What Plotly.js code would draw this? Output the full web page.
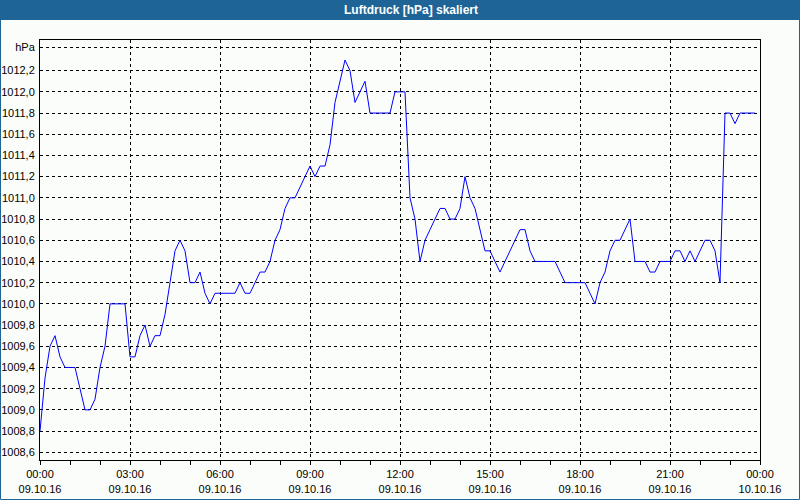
<!DOCTYPE html>
<html>
<head>
<meta charset="utf-8">
<script src="https://cdn.plot.ly/plotly-3.0.1.min.js"></script>
<style>
  html, body { margin: 0; padding: 0; background: #fbfdfb; }
  #chart { width: 800px; height: 500px; }
</style>
</head>
<body>
<div id="chart"></div>
<script>
const chartTitle = 'Luftdruck [hPa] skaliert';
const day = '2016-10-09';
const times = [
 '00:00','00:10','00:20','00:30','00:40','00:50','01:00','01:10','01:20','01:30','01:40','01:50',
 '02:00','02:10','02:20','02:30','02:40','02:50','03:00','03:10','03:20','03:30','03:40','03:50',
 '04:00','04:10','04:20','04:30','04:40','04:50','05:00','05:10','05:20','05:30','05:40','05:50',
 '06:00','06:10','06:20','06:30','06:40','06:50','07:00','07:10','07:20','07:30','07:40','07:50',
 '08:00','08:10','08:20','08:30','08:40','08:50','09:00','09:10','09:20','09:30','09:40','09:50',
 '10:00','10:10','10:20','10:30','10:40','10:50','11:00','11:10','11:20','11:30','11:40','11:50',
 '12:00','12:10','12:20','12:30','12:40','12:50','13:00','13:10','13:20','13:30','13:40','13:50',
 '14:00','14:10','14:20','14:30','14:40','14:50','15:00','15:10','15:20','15:30','15:40','15:50',
 '16:00','16:10','16:20','16:30','16:40','16:50','17:00','17:10','17:20','17:30','17:40','17:50',
 '18:00','18:10','18:20','18:30','18:40','18:50','19:00','19:10','19:20','19:30','19:40','19:50',
 '20:00','20:10','20:20','20:30','20:40','20:50','21:00','21:10','21:20','21:30','21:40','21:50',
 '22:00','22:10','22:20','22:30','22:40','22:50','23:00','23:10','23:20','23:30','23:40','23:50'
];
const pressure = [
 1008.8,1009.3,1009.6,1009.7,1009.5,1009.4,1009.4,1009.4,1009.2,1009.0,1009.0,1009.1,
 1009.4,1009.6,1010.0,1010.0,1010.0,1010.0,1009.5,1009.5,1009.7,1009.8,1009.6,1009.7,
 1009.7,1009.9,1010.2,1010.5,1010.6,1010.5,1010.2,1010.2,1010.3,1010.1,1010.0,1010.1,
 1010.1,1010.1,1010.1,1010.1,1010.2,1010.1,1010.1,1010.2,1010.3,1010.3,1010.4,1010.6,
 1010.7,1010.9,1011.0,1011.0,1011.1,1011.2,1011.3,1011.2,1011.3,1011.3,1011.5,1011.9,
 1012.1,1012.3,1012.2,1011.9,1012.0,1012.1,1011.8,1011.8,1011.8,1011.8,1011.8,1012.0,
 1012.0,1012.0,1011.0,1010.8,1010.4,1010.6,1010.7,1010.8,1010.9,1010.9,1010.8,1010.8,
 1010.9,1011.2,1011.0,1010.9,1010.7,1010.5,1010.5,1010.4,1010.3,1010.4,1010.5,1010.6,
 1010.7,1010.7,1010.5,1010.4,1010.4,1010.4,1010.4,1010.4,1010.3,1010.2,1010.2,1010.2,
 1010.2,1010.2,1010.1,1010.0,1010.2,1010.3,1010.5,1010.6,1010.6,1010.7,1010.8,1010.4,
 1010.4,1010.4,1010.3,1010.3,1010.4,1010.4,1010.4,1010.5,1010.5,1010.4,1010.5,1010.4,
 1010.5,1010.6,1010.6,1010.5,1010.2,1011.8,1011.8,1011.7,1011.8,1011.8,1011.8,1011.8
];
const yTickVals = [1008.6,1008.8,1009.0,1009.2,1009.4,1009.6,1009.8,1010.0,1010.2,1010.4,
                   1010.6,1010.8,1011.0,1011.2,1011.4,1011.6,1011.8,1012.0,1012.2,1012.42];
const yTickText = ['1008,6','1008,8','1009,0','1009,2','1009,4','1009,6','1009,8','1010,0','1010,2','1010,4',
                   '1010,6','1010,8','1011,0','1011,2','1011,4','1011,6','1011,8','1012,0','1012,2','hPa'];
const yRange = [1008.527, 1012.489];
const xRange = ['2016-10-09 00:00', '2016-10-10 00:00'];

const W = 800, H = 500, M = {l: 40, r: 40, t: 40, b: 40};
const pw = W - M.l - M.r, ph = H - M.t - M.b;
const px = v => (v - M.l) / pw;
const py = v => (H - M.b - v) / ph;
const barColor = '#1e6496';
const font = {family: 'Liberation Sans, Arial, sans-serif', size: 11, color: '#000000'};

const trace = {
  x: times.map(t => day + ' ' + t),
  y: pressure,
  type: 'scatter',
  mode: 'lines',
  line: {color: '#0000ff', width: 1, shape: 'linear'},
  hoverinfo: 'skip'
};

const layout = {
  width: W, height: H,
  margin: M,
  paper_bgcolor: '#fbfdfb',
  plot_bgcolor: '#fbfdfb',
  showlegend: false,
  font: font,
  title: {
    text: chartTitle,
    font: {family: 'Liberation Sans, Arial, sans-serif', size: 12, color: '#ffffff', weight: 'bold'},
    xref: 'paper', x: px(411), xanchor: 'center',
    yref: 'container', y: 1 - 10 / H, yanchor: 'middle'
  },
  xaxis: {
    type: 'date',
    range: xRange,
    tickmode: 'linear',
    tick0: '2016-10-09 00:00',
    dtick: 3 * 3600000,
    tickformat: '%H:%M<br>%d.%m.%y',
    ticks: 'outside', ticklen: 4, tickcolor: '#000000', tickwidth: 1,
    minor: {dtick: 3600000, ticks: 'outside', ticklen: 4, tickcolor: '#000000', showgrid: false},
    showgrid: true, gridcolor: '#000000', gridwidth: 1, griddash: '3px,3px',
    showline: true, linecolor: '#000000', linewidth: 1, mirror: true,
    zeroline: false, fixedrange: true,
    tickfont: font
  },
  yaxis: {
    range: yRange,
    tickmode: 'array',
    tickvals: yTickVals,
    ticktext: yTickText,
    ticks: '', ticklabelstandoff: 2,
    showgrid: true, gridcolor: '#000000', gridwidth: 1, griddash: '3px,3px',
    showline: true, linecolor: '#000000', linewidth: 1, mirror: true,
    zeroline: false, fixedrange: true,
    tickfont: font
  },
  shapes: [
    {type: 'rect', xref: 'paper', yref: 'paper', layer: 'below',
     x0: px(0), x1: px(W), y0: py(20), y1: py(0),
     fillcolor: barColor, line: {width: 0}},
    {type: 'rect', xref: 'paper', yref: 'paper', layer: 'above',
     x0: px(0.5), x1: px(W - 0.5), y0: py(H - 0.5), y1: py(0.5),
     fillcolor: 'rgba(0,0,0,0)', line: {color: barColor, width: 1}}
  ]
};

Plotly.newPlot('chart', [trace], layout, {displayModeBar: false, staticPlot: true});
</script>
</body>
</html>
